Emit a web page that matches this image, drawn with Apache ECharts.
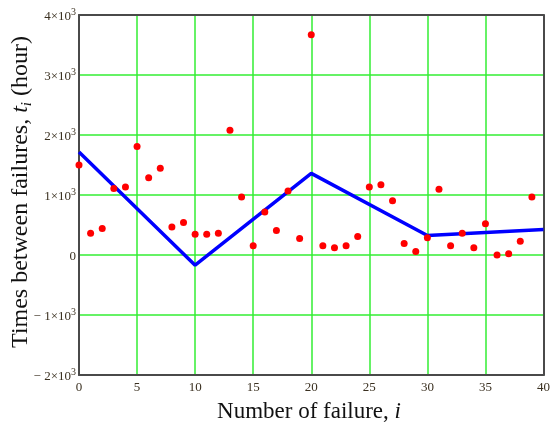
<!DOCTYPE html>
<html>
<head>
<meta charset="utf-8">
<script src="https://cdn.jsdelivr.net/npm/echarts@6/dist/echarts.min.js"></script>
<style>html,body{margin:0;padding:0;background:#fff;}#c{width:553px;height:427px;}</style>
</head>
<body>
<div id="c"></div>
<script>
// Data
const failureIndex = [0,1,2,3,4,5,6,7,8,9,10,11,12,13,14,15,16,17,18,19,20,21,22,23,24,25,26,27,28,29,30,31,32,33,34,35,36,37,38,39];
const timesBetween = [1500,364,442,1110,1133,1807,1289,1445,465,543,347,347,364,2079,965,154,715,409,1066,276,3670,154,120,154,309,1133,1172,905,192,58,287,1094,154,364,120,521,0,20,230,965];
const trendX = [0,10,20,30,40];
const trendY = [1717,-170,1361,326,426];
const xTicks = [0,5,10,15,20,25,30,35,40];
const yTickValues = [-2000,-1000,0,1000,2000,3000,4000];
const yTickBase = ['\u2212 2\u00d710','\u2212 1\u00d710','0','1\u00d710','2\u00d710','3\u00d710','4\u00d710'];
const yTickExp = ['3','3','','3','3','3','3'];

const chart = echarts.init(document.getElementById('c'), null, {renderer:'canvas'});
const serif = '"Liberation Serif","Times New Roman",serif';
const frame = {show:true,onZero:false,lineStyle:{color:'#4a4a4a',width:2}};
chart.setOption({
  animation:false,
  backgroundColor:'#fff',
  grid:{left:79,right:9,top:15,bottom:52},
  xAxis:[{type:'value',min:0,max:40,interval:5,position:'bottom',
    axisLine:frame,
    axisTick:{show:false},
    splitLine:{show:true,lineStyle:{color:'#33ee33',width:1.5}},
    axisLabel:{color:'#3a3020',fontFamily:serif,fontSize:13,margin:6,
      formatter:v=>String(xTicks[xTicks.indexOf(v)])}
  },{type:'value',min:0,max:40,interval:5,position:'top',
    axisLine:frame,axisTick:{show:false},axisLabel:{show:false},splitLine:{show:false}}],
  yAxis:[{type:'value',min:-2000,max:4000,interval:1000,position:'left',
    axisLine:frame,
    axisTick:{show:false},
    splitLine:{show:true,lineStyle:{color:'#33ee33',width:1.5}},
    axisLabel:{color:'#3a3020',fontFamily:serif,fontSize:13,margin:3,
      formatter:v=>{const k=yTickValues.indexOf(v);return yTickExp[k]?('{b|'+yTickBase[k]+'}{s|'+yTickExp[k]+'}'):('{b|'+yTickBase[k]+'}');},
      rich:{b:{fontFamily:serif,fontSize:13,color:'#3a3020',lineHeight:16,verticalAlign:'bottom'},
            s:{fontFamily:serif,fontSize:10,color:'#3a3020',lineHeight:16,verticalAlign:'top',padding:[0,0,6,0]}}}
  },{type:'value',min:-2000,max:4000,interval:1000,position:'right',
    axisLine:frame,axisTick:{show:false},axisLabel:{show:false},splitLine:{show:false}}],
  series:[
    {type:'line',data:trendX.map((x,k)=>[x,trendY[k]]),symbol:'none',
     lineStyle:{color:'#0000ff',width:3.5},z:3},
    {type:'scatter',data:failureIndex.map((x,k)=>[x,timesBetween[k]]),symbol:'circle',symbolSize:7,
     itemStyle:{color:'#ff0000',opacity:1},z:4}
  ],
  graphic:[
    {type:'text',x:21,y:192,rotation:Math.PI/2,
     style:{text:'Times between failures, {it|t}{sub|i} (hour)',
       fontFamily:serif,fontSize:24,fill:'#111',align:'center',verticalAlign:'middle',
       rich:{it:{fontFamily:serif,fontSize:24,fontStyle:'italic',fill:'#111'},
             sub:{fontFamily:serif,fontSize:15,fontStyle:'italic',fill:'#111',verticalAlign:'bottom',lineHeight:27}}}},
    {type:'text',x:309,y:412,
     style:{text:'Number of failure, {it|i}',fontFamily:serif,fontSize:23,fill:'#111',align:'center',verticalAlign:'middle',
       rich:{it:{fontFamily:serif,fontSize:23,fontStyle:'italic',fill:'#111'}}}}
  ]
});
</script>
</body>
</html>
